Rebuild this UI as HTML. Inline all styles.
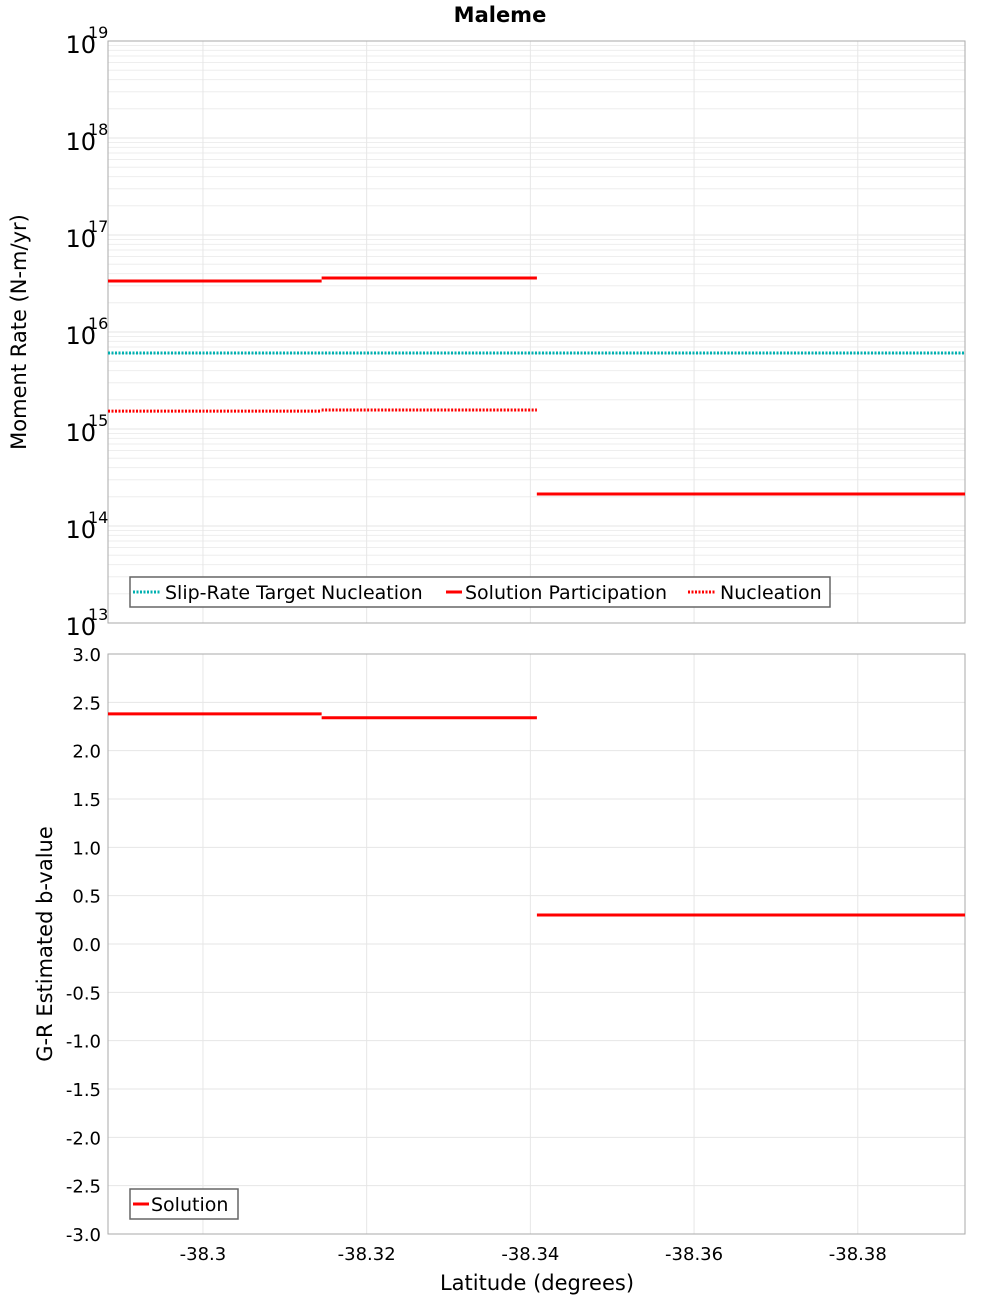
<!DOCTYPE html>
<html><head><meta charset="utf-8"><style>body{margin:0;background:#fff}svg{display:block;font-family:"DejaVu Sans","Liberation Sans",sans-serif}</style></head>
<body>
<svg id="c" width="1000" height="1300"></svg>
<script>
const xTicks=[-38.3,-38.32,-38.34,-38.36,-38.38];
const xTickLabels=["-38.3","-38.32","-38.34","-38.36","-38.38"];
const segStart=[-38.2884,-38.3145,-38.3408];
const segEnd=[-38.3145,-38.3408,-38.3931];
const participation=[3.36e16,3.6e16,2.14e14];
const nucleation=[1.53e15,1.57e15,2.14e14];
const slipTarget=[6.08e15];
const bValues=[2.38,2.34,0.30];
const yLogTicks=[13,14,15,16,17,18,19];
const bTicks=[-3,-2.5,-2,-1.5,-1,-0.5,0,0.5,1,1.5,2,2.5,3];

const NS="http://www.w3.org/2000/svg",svg=document.getElementById('c');
function el(t,a,txt){const e=document.createElementNS(NS,t);for(const k in a)e.setAttribute(k,a[k]);if(txt!==undefined)e.textContent=txt;svg.appendChild(e);return e;}
const L=108,R=965,T1=41,B1=623,T2=654,B2=1234;
const xMin=-38.2884,xMax=-38.3931;
const X=v=>L+(v-xMin)/(xMax-xMin)*(R-L);
const Y1=v=>B1-(Math.log10(v)-13)/6*(B1-T1);
const Y2=v=>B2-(v+3)/6*(B2-T2);

// grids
for(let d=13;d<19;d++)for(let m=2;m<=9;m++){const y=Y1(m*Math.pow(10,d));const g=el('line',{x1:L,x2:R,y1:y,y2:y,stroke:'#eeeeee'});}
yLogTicks.forEach(d=>{const y=Y1(Math.pow(10,d));const g=el('line',{x1:L,x2:R,y1:y,y2:y,stroke:'#e6e6e6'});
const t=el('text',{x:96,y:y+12,'font-size':24,'text-anchor':'end'},'10');
const s=el('text',{x:88,y:y-3,'font-size':16},String(d));});
bTicks.forEach(v=>{const y=Y2(v);const g=el('line',{x1:L,x2:R,y1:y,y2:y,stroke:'#e6e6e6'});
const t=el('text',{x:101,y:y+7,'font-size':18,'text-anchor':'end'},v.toFixed(1));});
xTicks.forEach((v,i)=>{[[T1,B1],[T2,B2]].forEach(p=>{const g=el('line',{x1:X(v),x2:X(v),y1:p[0],y2:p[1],stroke:'#e6e6e6'});});
const t=el('text',{x:X(v),y:1260,'font-size':18,'text-anchor':'middle'},xTickLabels[i]);});
[[T1,B1],[T2,B2]].forEach(p=>{const f=el('rect',{x:L,y:p[0],width:R-L,height:p[1]-p[0],fill:'none',stroke:'#aaaaaa'});});

// series
const st=el('line',{x1:L,x2:R,y1:Y1(slipTarget[0]),y2:Y1(slipTarget[0]),stroke:'#00b0b0','stroke-width':3,'stroke-dasharray':'2,1.5'});

nucleation.forEach((v,i)=>{const l=el('line',{x1:X(segStart[i]),x2:X(segEnd[i]),y1:Y1(v),y2:Y1(v),stroke:'#ff0000','stroke-width':3,'stroke-dasharray':'2,1.5'});});
participation.forEach((v,i)=>{const l=el('line',{x1:X(segStart[i]),x2:X(segEnd[i]),y1:Y1(v),y2:Y1(v),stroke:'#ff0000','stroke-width':3});});
bValues.forEach((v,i)=>{const l=el('line',{x1:X(segStart[i]),x2:X(segEnd[i]),y1:Y2(v),y2:Y2(v),stroke:'#ff0000','stroke-width':3});});
</script>
<svg style="position:absolute;left:0;top:0" width="1000" height="1300">
<text x="500" y="22" font-size="21" font-weight="bold" text-anchor="middle">Maleme</text>
<text transform="translate(26,332) rotate(-90)" font-size="21" text-anchor="middle">Moment Rate (N-m/yr)</text>
<text transform="translate(52,944) rotate(-90)" font-size="21" text-anchor="middle">G-R Estimated b-value</text>
<text x="537" y="1290" font-size="21" text-anchor="middle">Latitude (degrees)</text>
<g>
<rect x="130" y="577" width="700" height="30" fill="#fff" stroke="#666" stroke-width="1.5"/>
<line x1="133" x2="161" y1="592" y2="592" stroke="#00b0b0" stroke-width="3" stroke-dasharray="2,1.5"/>
<text x="165" y="599" font-size="19">Slip-Rate Target Nucleation</text>
<line x1="446" x2="462" y1="592" y2="592" stroke="#f00" stroke-width="3"/>
<text x="465" y="599" font-size="19">Solution Participation</text>
<line x1="688" x2="716" y1="592" y2="592" stroke="#f00" stroke-width="3" stroke-dasharray="2,1.5"/>
<text x="720" y="599" font-size="19">Nucleation</text>
</g>
<g>
<rect x="130" y="1189" width="108" height="30" fill="#fff" stroke="#666" stroke-width="1.5"/>
<line x1="133" x2="149" y1="1204" y2="1204" stroke="#f00" stroke-width="3"/>
<text x="151" y="1211" font-size="19">Solution</text>
</g>
</svg>
</body></html>
